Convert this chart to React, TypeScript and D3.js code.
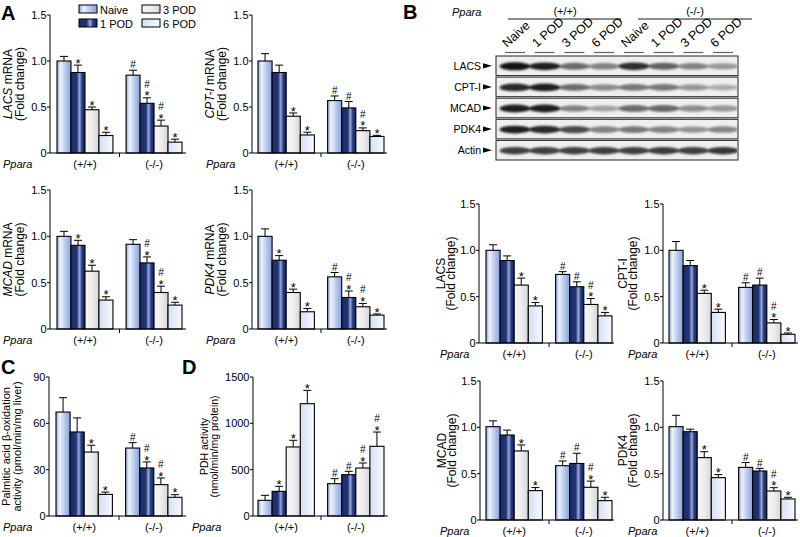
import React from "react";
import * as d3 from "d3";

const FONT = "'Liberation Sans', Arial, Helvetica, sans-serif";

const groups = ["(+/+)", "(-/-)"];
const series = ["Naive", "1 POD", "3 POD", "6 POD"];

// Panel A: mRNA fold change
const lacsMrnaMean = [[1.0, 0.875, 0.47, 0.19], [0.846, 0.54, 0.293, 0.118]];
const lacsMrnaErr = [[0.05, 0.08, 0.03, 0.035], [0.054, 0.06, 0.064, 0.032]];
const lacsMrnaSig = [["", "*", "*", "*"], ["#", "#*", "#*", "*"]];

const cptMrnaMean = [[1.0, 0.875, 0.4, 0.196], [0.57, 0.49, 0.243, 0.18]];
const cptMrnaErr = [[0.08, 0.08, 0.035, 0.03], [0.05, 0.07, 0.03, 0.012]];
const cptMrnaSig = [["", "", "*", "*"], ["#", "#", "#*", "*"]];

const mcadMrnaMean = [[1.0, 0.903, 0.624, 0.312], [0.914, 0.713, 0.394, 0.258]];
const mcadMrnaErr = [[0.054, 0.054, 0.064, 0.036], [0.05, 0.065, 0.068, 0.03]];
const mcadMrnaSig = [["", "*", "*", "*"], ["", "#*", "#*", "*"]];

const pdkMrnaMean = [[1.0, 0.742, 0.394, 0.186], [0.563, 0.34, 0.24, 0.15]];
const pdkMrnaErr = [[0.08, 0.05, 0.036, 0.036], [0.047, 0.07, 0.036, 0.012]];
const pdkMrnaSig = [["", "*", "*", "*"], ["#", "#*", "#*", "*"]];

// Panel C: palmitic acid beta-oxidation
const betaOxMean = [[67.3, 54.4, 41.4, 14.0], [44.0, 31.1, 20.3, 12.1]];
const betaOxErr = [[9.3, 9.1, 4.4, 1.5], [3.5, 3.9, 4.3, 1.7]];
const betaOxSig = [["", "", "*", "*"], ["#", "#*", "#*", "*"]];

// Panel D: PDH activity
const pdhMean = [[169, 266, 745, 1212], [349, 446, 518, 752]];
const pdhErr = [[54, 54, 72, 144], [54, 36, 54, 154]];
const pdhSig = [["", "*", "*", "*"], ["#", "#", "#*", "#*"]];

// Panel B: protein fold change
const lacsProtMean = [[1.0, 0.89, 0.625, 0.4], [0.74, 0.607, 0.416, 0.293]];
const lacsProtErr = [[0.06, 0.05, 0.075, 0.037], [0.03, 0.053, 0.064, 0.037]];
const cptProtMean = [[1.0, 0.835, 0.535, 0.33], [0.6, 0.625, 0.217, 0.094]];
const cptProtErr = [[0.095, 0.055, 0.035, 0.035], [0.05, 0.075, 0.036, 0.014]];
const mcadProtMean = [[1.007, 0.917, 0.745, 0.317], [0.586, 0.61, 0.353, 0.209]];
const mcadProtErr = [[0.063, 0.053, 0.065, 0.033], [0.051, 0.11, 0.067, 0.036]];
const pdkProtMean = [[1.007, 0.953, 0.673, 0.457], [0.568, 0.529, 0.313, 0.227]];
const pdkProtErr = [[0.123, 0.027, 0.064, 0.033], [0.052, 0.028, 0.036, 0.018]];
const protSig = [["", "", "*", "*"], ["#", "#", "#*", "*"]];

const foldTicks = [0, 0.5, 1.0, 1.5];
const betaTicks = [0, 30, 60, 90];
const pdhTicks = [0, 500, 1000, 1500];

// Western blot
const blotProteins = ["LACS", "CPT-I", "MCAD", "PDK4", "Actin"];
const blotLanes = ["Naive", "1 POD", "3 POD", "6 POD", "Naive", "1 POD", "3 POD", "6 POD"];
const blotIntensity = [
  [1.0, 0.95, 0.6, 0.5, 0.88, 0.65, 0.5, 0.4],
  [0.9, 0.95, 0.6, 0.45, 0.55, 0.55, 0.4, 0.3],
  [0.95, 0.95, 0.5, 0.35, 0.6, 0.62, 0.45, 0.4],
  [0.95, 0.9, 0.75, 0.5, 0.55, 0.5, 0.42, 0.48],
  [0.8, 0.8, 0.8, 0.8, 0.8, 0.82, 0.8, 0.85],
];

const fold = (v: number) => (v === 0 ? "0" : v.toFixed(1));
const plain = (v: number) => String(v);

type PanelProps = {
  mean: number[][];
  err: number[][];
  sig: string[][];
  axisX: number;
  axisEnd: number;
  y0: number;
  yTop: number;
  yMax: number;
  ticks: number[];
  fmt: (v: number) => string;
  barStart: number;
  barEnd: number;
  ylabel: React.ReactNode[];
  ylOff: [number, number];
  ylSize: number;
  pparaX: number;
};

function BarPanel(p: PanelProps) {
  const y = d3.scaleLinear().domain([0, p.yMax]).range([p.y0, p.yTop]);
  const gx = d3.scaleBand<string>().domain(groups).range([p.barStart, p.barEnd]).paddingInner(0.19);
  const sx = d3.scaleBand<string>().domain(series).range([0, gx.bandwidth()]);
  const bars: React.ReactNode[] = [];
  groups.forEach((g, gi) =>
    series.forEach((s, si) => {
      const x = (gx(g) as number) + (sx(s) as number);
      const w = sx.bandwidth();
      const m = p.mean[gi][si];
      const e = p.err[gi][si];
      const top = y(m);
      const et = y(m + e);
      const cx = x + w / 2;
      const sg = p.sig[gi][si];
      const hasStar = sg.includes("*");
      const hasHash = sg.includes("#");
      bars.push(
        <g key={g + s}>
          <line x1={cx} x2={cx} y1={top} y2={et} stroke="#000" strokeWidth={1} />
          <line x1={cx - 4} x2={cx + 4} y1={et} y2={et} stroke="#000" strokeWidth={1} />
          <rect x={x} y={top} width={w} height={p.y0 - top} fill={`url(#bargrad${si})`} stroke="#000" strokeWidth={1.1} />
          {hasStar && (
            <text x={cx} y={et + 2.6} textAnchor="middle" fontSize={13} fontFamily={FONT}>
              *
            </text>
          )}
          {hasHash && (
            <text x={cx} y={hasStar ? et - 10 : et - 1.8} textAnchor="middle" fontSize={10} fontFamily={FONT}>
              #
            </text>
          )}
        </g>
      );
    })
  );
  const g1 = gx(groups[0]) as number;
  const g2 = gx(groups[1]) as number;
  const sepX = (g1 + gx.bandwidth() + g2) / 2;
  const cy = (p.y0 + p.yTop) / 2;
  const lblY = p.y0 + 14.5;
  return (
    <g fontFamily={FONT}>
      {bars}
      <line x1={p.axisX} x2={p.axisX} y1={p.y0} y2={p.yTop} stroke="#000" strokeWidth={1} />
      <line x1={p.axisX} x2={p.axisEnd} y1={p.y0} y2={p.y0} stroke="#000" strokeWidth={1} />
      <line x1={sepX} x2={sepX} y1={p.y0} y2={p.y0 + 4} stroke="#000" strokeWidth={1} />
      {p.ticks.map((t) => (
        <g key={t}>
          <line x1={p.axisX - 3} x2={p.axisX} y1={y(t)} y2={y(t)} stroke="#000" strokeWidth={1} />
          <text x={p.axisX - 3.5} y={y(t) + 4} textAnchor="end" fontSize={11}>
            {p.fmt(t)}
          </text>
        </g>
      ))}
      <text transform={`translate(${p.axisX - p.ylOff[0]},${cy}) rotate(-90)`} textAnchor="middle" fontSize={p.ylSize}>
        {p.ylabel[0]}
      </text>
      <text transform={`translate(${p.axisX - p.ylOff[1]},${cy}) rotate(-90)`} textAnchor="middle" fontSize={p.ylSize}>
        {p.ylabel[1]}
      </text>
      <text x={p.pparaX} y={lblY} fontSize={11} fontStyle="italic">
        Ppara
      </text>
      {groups.map((g) => (
        <text key={g} x={(gx(g) as number) + gx.bandwidth() / 2} y={lblY} textAnchor="middle" fontSize={11}>
          {g}
        </text>
      ))}
    </g>
  );
}

function Blot() {
  const lx = d3.scalePoint<string>().domain(d3.range(8).map(String)).range([515, 723]);
  const ry = d3.scaleBand<string>().domain(blotProteins).range([56, 160]).paddingInner(0.07);
  const boxL = 496;
  const boxR = 738;
  return (
    <g fontFamily={FONT}>
      <text x={452} y={16} fontSize={11} fontStyle="italic">Ppara</text>
      <text x={565} y={15} fontSize={11} textAnchor="middle">(+/+)</text>
      <text x={695} y={15} fontSize={11} textAnchor="middle">(-/-)</text>
      <line x1={508} x2={621} y1={19} y2={19} stroke="#666" strokeWidth={1.3} />
      <line x1={638} x2={752} y1={19} y2={19} stroke="#666" strokeWidth={1.3} />
      {blotLanes.map((l, i) => {
        const x = lx(String(i)) as number;
        return (
          <g key={i}>
            <text transform={`translate(${x - 8},${48}) rotate(-42)`} fontSize={12.5}>
              {l}
            </text>
            <line x1={x - 10} x2={x + 10} y1={52.5} y2={52.5} stroke="#666" strokeWidth={1.2} />
          </g>
        );
      })}
      {blotProteins.map((pr, pi) => {
        const top = ry(pr) as number;
        const h = ry.bandwidth();
        const c = top + h / 2;
        return (
          <g key={pr}>
            <rect x={boxL} y={top} width={boxR - boxL} height={h} fill="#efefef" stroke="#222" strokeWidth={1} />
            <g filter="url(#blur)" clipPath={`url(#clip${pi})`}>
              {blotIntensity[pi].map((v, li) => (
                <ellipse key={li} cx={lx(String(li)) as number} cy={c + 0.5} rx={15.5} ry={2.6 + v * 1.4} fill="#000" opacity={v * 0.92} />
              ))}
            </g>
            <clipPath id={`clip${pi}`}>
              <rect x={boxL + 1} y={top + 1} width={boxR - boxL - 2} height={h - 2} />
            </clipPath>
            <text x={481} y={c + 4} textAnchor="end" fontSize={10.5}>
              {pr}
            </text>
            <path d={`M${483},${c - 2.6} L${492},${c} L${483},${c + 2.6} Z`} fill="#000" />
          </g>
        );
      })}
    </g>
  );
}

function Legend() {
  const items = [
    { x: 79, y: 5, i: 0 },
    { x: 79, y: 19, i: 1 },
    { x: 142, y: 5, i: 2 },
    { x: 142, y: 19, i: 3 },
  ];
  return (
    <g fontFamily={FONT}>
      {items.map((it) => (
        <g key={it.i}>
          <rect x={it.x} y={it.y} width={18} height={8} fill={`url(#bargrad${it.i})`} stroke="#000" strokeWidth={1} />
          <text x={it.x + 21} y={it.y + 8.5} fontSize={11}>
            {series[it.i]}
          </text>
        </g>
      ))}
    </g>
  );
}

export default function App() {
  const mrna = (gene: string) => [
    <tspan key="a">
      <tspan fontStyle="italic">{gene}</tspan> mRNA
    </tspan>,
    "(Fold change)",
  ];
  const aCommon = { ticks: foldTicks, fmt: fold, yMax: 1.5, ylOff: [38, 26] as [number, number], ylSize: 12 };
  const bCommon = { ticks: foldTicks, fmt: fold, yMax: 1.5, ylSize: 12, sig: protSig };
  return (
    <svg width={800} height={537} style={{ position: "absolute", left: 0, top: 0, background: "#fff" }}>
      <defs>
        <linearGradient id="bargrad0" x1="0" x2="1" y1="0" y2="0">
          <stop offset="0" stopColor="#8ba6df" />
          <stop offset="0.25" stopColor="#eef2fb" />
          <stop offset="0.6" stopColor="#b9caee" />
          <stop offset="1" stopColor="#88a2dd" />
        </linearGradient>
        <linearGradient id="bargrad1" x1="0" x2="1" y1="0" y2="0">
          <stop offset="0" stopColor="#1c2c6a" />
          <stop offset="0.42" stopColor="#1f3475" />
          <stop offset="0.62" stopColor="#9aa9d6" />
          <stop offset="0.78" stopColor="#283d83" />
          <stop offset="1" stopColor="#15235a" />
        </linearGradient>
        <linearGradient id="bargrad2" x1="0" x2="1" y1="0" y2="0">
          <stop offset="0" stopColor="#f6f6f6" />
          <stop offset="0.5" stopColor="#eeeeee" />
          <stop offset="1" stopColor="#d6d6d6" />
        </linearGradient>
        <linearGradient id="bargrad3" x1="0" x2="1" y1="0" y2="0">
          <stop offset="0" stopColor="#d4e0f5" />
          <stop offset="1" stopColor="#f7f9fe" />
        </linearGradient>
        <filter id="blur" x="-10%" y="-50%" width="120%" height="200%">
          <feGaussianBlur stdDeviation="1.3 1" />
        </filter>
      </defs>

      <g fontFamily={FONT} fontWeight="bold" fontSize={20}>
        <text x={1} y={20}>A</text>
        <text x={403} y={19}>B</text>
        <text x={1} y={374}>C</text>
        <text x={182} y={374}>D</text>
      </g>

      <Legend />

      <BarPanel {...aCommon} mean={lacsMrnaMean} err={lacsMrnaErr} sig={lacsMrnaSig} axisX={50} axisEnd={186} y0={153} yTop={15} barStart={57} barEnd={182} ylabel={mrna("LACS")} pparaX={3} />
      <BarPanel {...aCommon} mean={cptMrnaMean} err={cptMrnaErr} sig={cptMrnaSig} axisX={252} axisEnd={387} y0={153} yTop={15} barStart={258} barEnd={384} ylabel={mrna("CPT-I")} pparaX={206} />
      <BarPanel {...aCommon} mean={mcadMrnaMean} err={mcadMrnaErr} sig={mcadMrnaSig} axisX={50} axisEnd={186} y0={329} yTop={190} barStart={57} barEnd={182} ylabel={mrna("MCAD")} pparaX={3} />
      <BarPanel {...aCommon} mean={pdkMrnaMean} err={pdkMrnaErr} sig={pdkMrnaSig} axisX={252} axisEnd={387} y0={329} yTop={190} barStart={258} barEnd={384} ylabel={mrna("PDK4")} pparaX={206} />

      <BarPanel ticks={betaTicks} fmt={plain} yMax={90} ylOff={[39, 28]} ylSize={11} mean={betaOxMean} err={betaOxErr} sig={betaOxSig} axisX={49} axisEnd={186} y0={516} yTop={377} barStart={56} barEnd={182} ylabel={["Palmitic acid β-oxidation", "activity (pmol/min/mg liver)"]} pparaX={3} />
      <BarPanel ticks={pdhTicks} fmt={plain} yMax={1500} ylOff={[45, 35]} ylSize={10.5} mean={pdhMean} err={pdhErr} sig={pdhSig} axisX={253} axisEnd={388} y0={516} yTop={377} barStart={258} barEnd={384} ylabel={["PDH activity", "(nmol/min/mg protein)"]} pparaX={192} />

      <Blot />

      <BarPanel {...bCommon} ylOff={[34, 24]} mean={lacsProtMean} err={lacsProtErr} axisX={479} axisEnd={614} y0={343} yTop={204} barStart={486} barEnd={612} ylabel={["LACS", "(Fold change)"]} pparaX={440} />
      <BarPanel {...bCommon} ylOff={[36, 26]} mean={cptProtMean} err={cptProtErr} axisX={663} axisEnd={798} y0={343} yTop={204} barStart={669} barEnd={795} ylabel={["CPT-I", "(Fold change)"]} pparaX={628} />
      <BarPanel {...bCommon} ylOff={[34, 24]} mean={mcadProtMean} err={mcadProtErr} axisX={480} axisEnd={614} y0={520} yTop={381} barStart={486} barEnd={612} ylabel={["MCAD", "(Fold change)"]} pparaX={440} />
      <BarPanel {...bCommon} ylOff={[36, 26]} mean={pdkProtMean} err={pdkProtErr} axisX={663} axisEnd={798} y0={520} yTop={381} barStart={669} barEnd={795} ylabel={["PDK4", "(Fold change)"]} pparaX={628} />
    </svg>
  );
}
